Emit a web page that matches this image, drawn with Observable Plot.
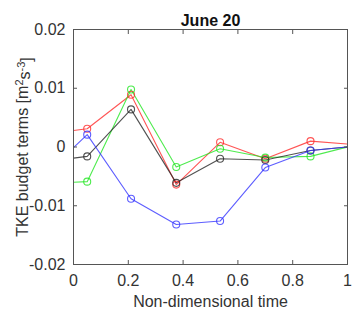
<!DOCTYPE html>
<html>
<head>
<meta charset="utf-8">
<script src="https://cdn.jsdelivr.net/npm/d3@7"></script>
<script src="https://cdn.jsdelivr.net/npm/@observablehq/plot@0.6"></script>
<style>
body { margin: 0; background: #fff; }
</style>
</head>
<body>
<div id="chart"></div>
<script>
const times = [0, 0.05, 0.21, 0.375, 0.535, 0.70, 0.865, 1];
const red   = [0.0028, 0.0031, 0.0089, -0.0064, 0.0008, -0.0020, 0.0010, 0.0005];
const green = [-0.0060, -0.0059, 0.0098, -0.0034, -0.0003, -0.0018, -0.0016, 0.0000];
const black = [-0.0019, -0.0016, 0.0064, -0.0061, -0.0020, -0.0022, -0.0006, 0.0000];
const blue  = [-0.0001, 0.0021, -0.0088, -0.0132, -0.0126, -0.0035, -0.0006, 0.0000];
const seriesNames = ["S1", "S2", "S3", "S4"];
const seriesColors = ["#ff2a2a", "#22e622", "#262626", "#3535ff"];
const xTicks = [0, 0.2, 0.4, 0.6, 0.8, 1];
const yTicks = [-0.02, -0.01, 0, 0.01, 0.02];

const values = [red, green, black, blue];
const data = [];
seriesNames.forEach((s, i) => times.forEach((t, j) => data.push({series: s, t, v: values[i][j], interior: j > 0 && j < times.length - 1})));
const markers = data.filter(d => d.interior);

const font = "Liberation Sans, Arial, Helvetica, sans-serif";
const chart = Plot.plot({
  width: 354,
  height: 318,
  marginTop: 29,
  marginLeft: 73,
  marginRight: 7,
  marginBottom: 54,
  style: {fontFamily: font, fontSize: "16px", color: "#333", background: "#fff"},
  x: {domain: [0, 1]},
  y: {domain: [-0.02, 0.02]},
  color: {domain: seriesNames, range: seriesColors},
  marks: [
    Plot.line(data, {x: "t", y: "v", z: "series", stroke: "series", strokeWidth: 1.1, strokeOpacity: 0.8, clip: true}),
    Plot.dot(markers, {x: "t", y: "v", stroke: "series", r: 3.5, strokeWidth: 1.1, strokeOpacity: 0.8, fill: "none"}),
    Plot.frame({stroke: "#555", strokeWidth: 1}),
    Plot.axisX({anchor: "bottom", ticks: xTicks, tickSize: -4, tickPadding: 14, stroke: "#555", fontSize: 16, fill: "#333", tickFormat: d => String(d), label: null}),
    Plot.axisX({anchor: "top", ticks: xTicks, tickSize: -4, stroke: "#555", tickFormat: () => "", label: null}),
    Plot.axisY({anchor: "left", ticks: yTicks, tickSize: -4, tickPadding: 12, stroke: "#555", fontSize: 16, fill: "#333", tickFormat: d => d === 0 ? "0" : String(+d.toFixed(2)), label: null}),
    Plot.axisY({anchor: "right", ticks: yTicks, tickSize: -4, stroke: "#555", tickFormat: () => "", label: null}),
    Plot.text(["June 20"], {frameAnchor: "top", dy: -15, fontWeight: "bold", fontSize: 16, fill: "#111"}),
    Plot.text(["Non-dimensional time"], {frameAnchor: "bottom", dy: 42, fontSize: 16, fill: "#333"}),
    Plot.text(["TKE budget terms [m2s-3]"], {frameAnchor: "left", textAnchor: "middle", dx: -51, rotate: -90, fontSize: 16, fill: "#333", className: "ylab"})
  ]
});
document.getElementById("chart").appendChild(chart);

// rich-text superscripts for the y label
d3.select(chart).selectAll("g.ylab text").each(function() {
  const t = d3.select(this);
  t.text(null);
  t.append("tspan").text("TKE budget terms [m");
  t.append("tspan").attr("font-size", 11).attr("dy", "-0.45em").text("2");
  t.append("tspan").attr("dy", "0.45em").text("s");
  t.append("tspan").attr("font-size", 11).attr("dy", "-0.45em").text("-3");
  t.append("tspan").attr("dy", "0.45em").text("]");
});
</script>
</body>
</html>
